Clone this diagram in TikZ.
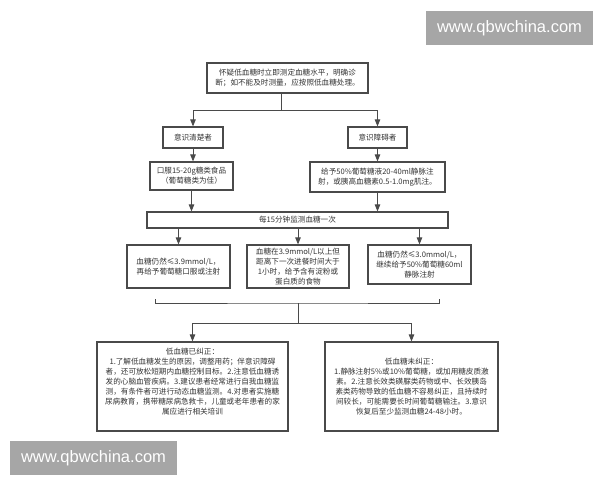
\documentclass[tikz,border=0pt]{standalone}
\usepackage{fontspec}
\setmainfont{Noto Sans CJK SC}
\newfontfamily\webfont{Liberation Sans}
\usetikzlibrary{arrows.meta}
\definecolor{boxline}{HTML}{4A4A4A}
\definecolor{inkgray}{HTML}{333333}
\definecolor{stampgray}{HTML}{A6A6A6}
\tikzstyle{box} = [draw=boxline, line width=1.2pt, align=center, inner sep=1pt,
  text=inkgray, font=\fontsize{7.6}{10}\selectfont]
\tikzstyle{link} = [draw=boxline, line width=0.9pt]
\tikzstyle{stamp} = [fill=stampgray, text=white, inner sep=0pt,
  font=\webfont\fontsize{16.5}{18}\selectfont]
\tikzset{>={Triangle[length=7pt, width=5.5pt]}}

\begin{document}
\begin{tikzpicture}[x=1pt, y=-1pt]
  \useasboundingbox (0,0) rectangle (600,480);
  % Boxes
  \node[box, minimum width=161, minimum height=30] (suspect) at (287.5,78)
    {怀疑低血糖时立即测定血糖水平，明确诊\\断；如不能及时测量，应按照低血糖处理。};
  \node[box, minimum width=60, minimum height=21] (clear) at (193,137.5) {意识清楚者};
  \node[box, minimum width=59, minimum height=21] (coma) at (377.5,137.5) {意识障碍者};
  \node[box, minimum width=83, minimum height=28] (oral) at (191.5,176)
    {口服15-20g糖类食品\\（葡萄糖类为佳）};
  \node[box, minimum width=135, minimum height=30] (inject) at (377.5,177)
    {给予50\%葡萄糖液20-40ml静脉注\\射，或胰高血糖素0.5-1.0mg肌注。};
  \node[box, minimum width=301, minimum height=16] (monitor) at (297.5,220)
    {每15分钟监测血糖一次};
  \node[box, minimum width=103, minimum height=43] (lowA) at (178.5,266.5)
    {血糖仍然≤3.9mmol/L，\\再给予葡萄糖口服或注射};
  \node[box, minimum width=102, minimum height=43] (midB) at (298,266.5)
    {血糖在3.9mmol/L以上但\\距离下一次进餐时间大于\\1小时，给予含有淀粉或\\蛋白质的食物};
  \node[box, minimum width=103, minimum height=39] (lowC) at (419.5,264.5)
    {血糖仍然≤3.0mmol/L，\\继续给予50\%葡萄糖60ml\\静脉注射};
  \node[box, minimum width=191, minimum height=89] (fixed) at (192.5,386.5)
    {低血糖已纠正：\\
     1.了解低血糖发生的原因，调整用药；伴意识障碍\\
     者，还可放松短期内血糖控制目标。2.注意低血糖诱\\
     发的心脑血管疾病。3.建议患者经常进行自我血糖监\\
     测，有条件者可进行动态血糖监测。4.对患者实施糖\\
     尿病教育，携带糖尿病急救卡，儿童或老年患者的家\\
     属应进行相关培训\\ \mbox{}};
  \node[box, minimum width=173, minimum height=89] (unfixed) at (411.5,386.5)
    {低血糖未纠正：\\
     1.静脉注射5\%或10\%葡萄糖，或加用糖皮质激\\
     素。2.注意长效类磺脲类药物或中、长效胰岛\\
     素类药物导致的低血糖不容易纠正，且持续时\\
     间较长，可能需要长时间葡萄糖输注。3.意识\\
     恢复后至少监测血糖24-48小时。};
  % Connectors
  \coordinate (forkA) at (281,110);
  \draw[link] (suspect.south -| forkA) -- (forkA);
  \draw[link,->] (forkA) -| (clear.north);
  \draw[link,->] (forkA) -| (coma.north);
  \draw[link,->] (clear.south) -- (clear.south |- oral.north);
  \draw[link,->] (coma.south) -- (coma.south |- inject.north);
  \draw[link,->] (oral.south) -- (oral.south |- monitor.north);
  \draw[link,->] (coma.south |- inject.south) -- (coma.south |- monitor.north);
  \foreach \n in {lowA, midB, lowC}
    \draw[link,->] (\n.north |- monitor.south) -- (\n.north);
  % Bracket
  \coordinate (brL) at (155,299);
  \coordinate (brR) at (439,299);
  \coordinate (brM) at (298,303);
  \coordinate (forkB) at (298,323);
  \draw[link] (brL) |- (brM) -| (brR);
  \draw[link] (brM) -- (forkB);
  \draw[link,->] (forkB) -| (fixed.north);
  \draw[link,->] (forkB) -| (unfixed.north);
  % Watermarks
  \node[stamp, minimum width=167, minimum height=34] (stampTop) at (509.5,28) {www.qbwchina.com};
  \node[stamp, minimum width=167, minimum height=34] (stampBot) at (93.5,458) {www.qbwchina.com};
\end{tikzpicture}
\end{document}
